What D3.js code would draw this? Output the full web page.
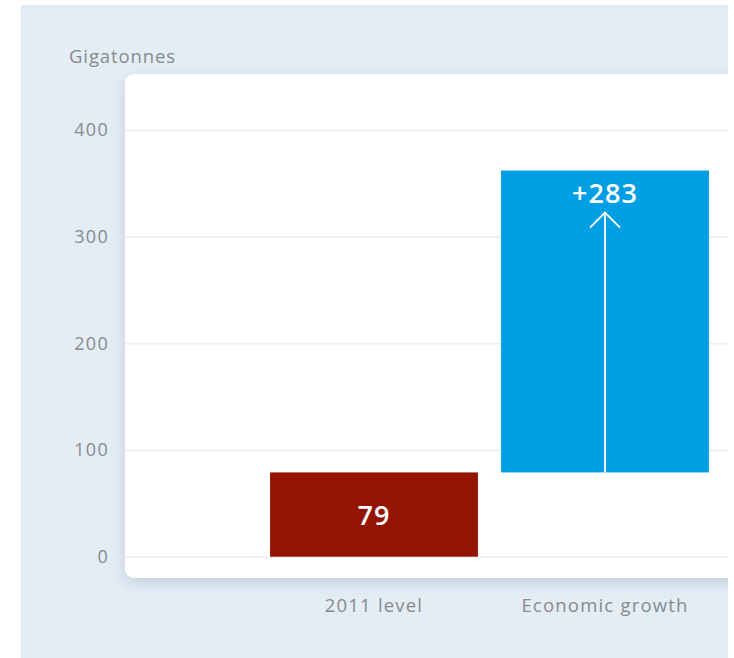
<!DOCTYPE html>
<html>
<head>
<meta charset="utf-8">
<script src="https://cdn.jsdelivr.net/npm/d3@7"></script>
<style>
  html, body { margin: 0; padding: 0; background: #ffffff; }
  svg { display: block; font-family: "Open Sans", "Noto Sans", sans-serif; }
</style>
</head>
<body>
<svg id="chart" width="734" height="658"></svg>
<script>
// Emissions build-up: starting level plus the increase from economic growth
const categories = ["2011 level", "Economic growth"];
const baseValues = [0, 79];        // where each bar starts
const deltaValues = [79, 283];     // how much each bar adds
const barLabels = ["79", "+283"];
const barColors = ["#931400", "#009fe3"];
const yTicks = [0, 100, 200, 300, 400];
const unitLabel = "Gigatonnes";

const svg = d3.select("#chart");

// outer tinted area
const bg = { x: 21, y: 5, w: 707, h: 653 };
// white plotting card
const card = { x: 125, y: 74, w: 630, h: 504, r: 9 };

const defs = svg.append("defs");
defs.append("clipPath").attr("id", "bgclip")
  .append("rect").attr("x", bg.x).attr("y", bg.y).attr("width", bg.w).attr("height", bg.h);
const shadow = defs.append("filter").attr("id", "cardShadow")
  .attr("x", "-10%").attr("y", "-10%").attr("width", "120%").attr("height", "120%");
shadow.append("feDropShadow")
  .attr("dx", 0).attr("dy", 5).attr("stdDeviation", 7)
  .attr("flood-color", "#8ea2ba").attr("flood-opacity", 0.38);

const root = svg.append("g").attr("clip-path", "url(#bgclip)");

root.append("rect")
  .attr("x", bg.x).attr("y", bg.y).attr("width", bg.w).attr("height", bg.h)
  .attr("fill", "#e4ecf4");

root.append("rect")
  .attr("x", card.x).attr("y", card.y).attr("width", card.w).attr("height", card.h)
  .attr("rx", card.r).attr("ry", card.r)
  .attr("fill", "#ffffff")
  .attr("filter", "url(#cardShadow)");

// scales
const y = d3.scaleLinear().domain([0, 400]).range([556.7, 130]);
const x = d3.scaleBand().domain(categories)
  .range([258.5, 720.5]).paddingInner(0.1).paddingOuter(0.05);

const textGrey = "#868b90";

// y axis: tick lines become horizontal gridlines across the card
const yAxis = d3.axisLeft(y).tickValues(yTicks)
  .tickSize(-(bg.x + bg.w - card.x)).tickPadding(16);
const gy = root.append("g").attr("transform", `translate(${card.x},0)`).call(yAxis);
gy.select(".domain").remove();
gy.selectAll(".tick line").attr("stroke", "#ebedef").attr("stroke-width", 1.5);
gy.selectAll(".tick text")
  .attr("fill", textGrey)
  .attr("font-size", 18)
  .attr("letter-spacing", 1.3)
  .attr("font-family", "'Open Sans', sans-serif");

// category labels below the card
const xAxis = d3.axisBottom(x).tickSize(0).tickPadding(42);
const gx = root.append("g").attr("transform", `translate(0,${y(0)})`).call(xAxis);
gx.select(".domain").remove();
gx.selectAll(".tick text")
  .attr("fill", textGrey)
  .attr("font-size", 18.5)
  .attr("letter-spacing", 1.2)
  .attr("font-family", "'Open Sans', sans-serif");

// unit label
root.append("text")
  .attr("x", 69).attr("y", 63)
  .attr("fill", textGrey)
  .attr("font-size", 18.5)
  .attr("letter-spacing", 0.9)
  .text(unitLabel);

// bars
const rows = categories.map((c, i) => ({
  cat: c, base: baseValues[i], delta: deltaValues[i], label: barLabels[i], color: barColors[i]
}));

const bars = root.append("g").selectAll("g").data(rows).join("g");
bars.append("rect")
  .attr("x", d => x(d.cat))
  .attr("width", x.bandwidth())
  .attr("y", d => y(d.base + d.delta))
  .attr("height", d => y(d.base) - y(d.base + d.delta))
  .attr("fill", d => d.color);

// increase arrow inside the growth bar
const rise = rows.filter(d => d.base > 0);
const arrowG = root.append("g").selectAll("g").data(rise).join("g");
arrowG.append("line")
  .attr("x1", d => x(d.cat) + x.bandwidth() / 2)
  .attr("x2", d => x(d.cat) + x.bandwidth() / 2)
  .attr("y1", d => y(d.base))
  .attr("y2", d => y(d.base + d.delta) + 42)
  .attr("stroke", "#ffffff").attr("stroke-width", 1.8);
arrowG.append("path")
  .attr("d", d => {
    const cx = x(d.cat) + x.bandwidth() / 2;
    const ty = y(d.base + d.delta) + 42;
    return `M${cx - 15},${ty + 15}L${cx},${ty}L${cx + 15},${ty + 15}`;
  })
  .attr("fill", "none").attr("stroke", "#ffffff").attr("stroke-width", 1.8);

// value labels
bars.append("text")
  .attr("x", d => x(d.cat) + x.bandwidth() / 2)
  .attr("y", d => d.base > 0
    ? y(d.base + d.delta) + 32
    : (y(d.base) + y(d.base + d.delta)) / 2 + 10)
  .attr("text-anchor", "middle")
  .attr("fill", "#ffffff")
  .attr("font-size", 27)
  .attr("font-weight", 600)
  .attr("letter-spacing", 1)
  .text(d => d.label);
</script>
</body>
</html>
